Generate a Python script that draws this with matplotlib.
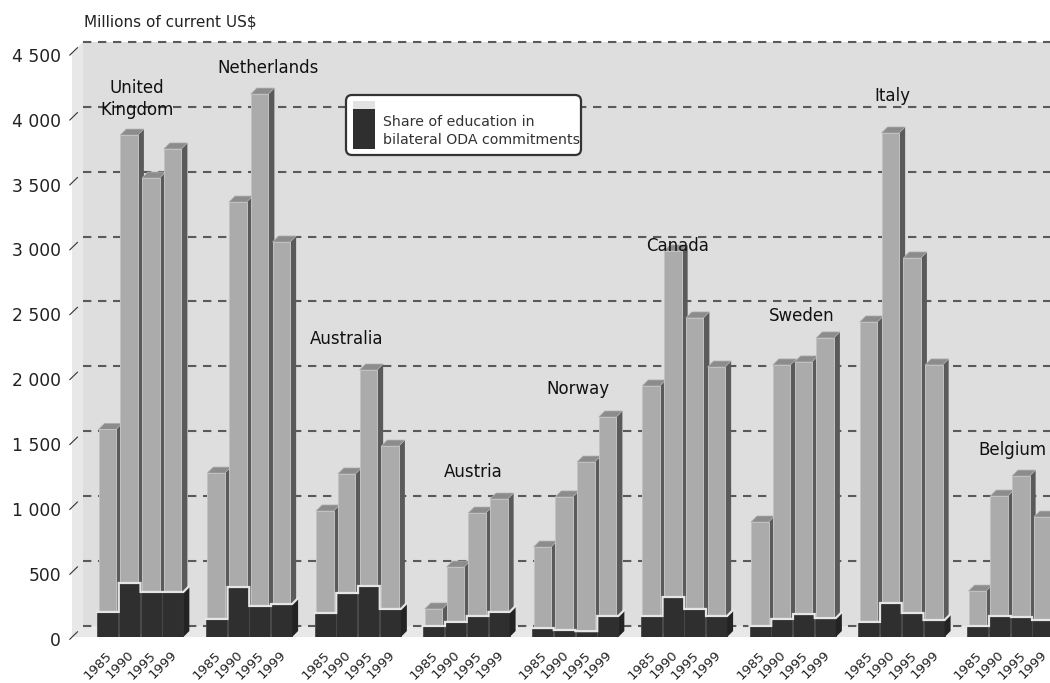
import matplotlib.pyplot as plt
from matplotlib.patches import Polygon, Rectangle, FancyBboxPatch

# bilateral ODA commitments (millions of current US$) and education part
countries = ['United\nKingdom', 'Netherlands', 'Australia', 'Austria', 'Norway',
             'Canada', 'Sweden', 'Italy', 'Belgium']
years = ['1985', '1990', '1995', '1999']

oda_1985 = [1600, 1263, 971, 216, 693, 1934, 886, 2427, 354]
oda_1990 = [3867, 3351, 1256, 539, 1079, 2974, 2096, 3883, 1086]
oda_1995 = [3536, 4183, 2057, 955, 1348, 2458, 2119, 2920, 1240]
oda_1999 = [3760, 3043, 1471, 1063, 1695, 2080, 2304, 2096, 924]

edu_1985 = [193, 139, 185, 85, 69, 162, 85, 116, 85]
edu_1990 = [416, 385, 339, 116, 54, 308, 139, 262, 162]
edu_1995 = [347, 239, 393, 162, 45, 216, 177, 185, 154]
edu_1999 = [347, 254, 216, 193, 162, 162, 146, 131, 131]

y_ticks = [0, 500, 1000, 1500, 2000, 2500, 3000, 3500, 4000, 4500]

# where the country names sit (x in bar slots, y in millions)
label_x = [1.84, 7.86, 11.49, 17.29, 22.11, 26.67, 32.41, 36.55, 42.07]
label_y = [4145, 4384, 2296, 1271, 1911, 3012, 2473, 4168, 1441]

oda = [oda_1985, oda_1990, oda_1995, oda_1999]
edu = [edu_1985, edu_1990, edu_1995, edu_1999]

W, H = 1050, 683
PX_X = 21.75     # pixels per bar slot
PX_Y = 0.1298    # pixels per million
fig = plt.figure(figsize=(W / 100, H / 100), dpi=100)

xmin = (72 - 97) / PX_X
xmax = (W - 97) / PX_X
ymax = 4600
ax = fig.add_axes([72 / W, (H - 637) / H, (W - 72) / W, ymax * PX_Y / H])
ax.set_xlim(xmin, xmax)
ax.set_ylim(0, ymax)
ax.axis('off')

# 3d offsets: wall depth and bar depth
dxw, dyw = 11 / PX_X, 11 / PX_Y
dxb, dyb = 6 / PX_X, 6 / PX_Y

# walls
ax.add_patch(Rectangle((xmin + dxw, dyw), xmax - xmin, 4500, fc='#dedede', ec='none', zorder=0))
ax.add_patch(Polygon([(xmin, 0), (xmin, 4500), (xmin + dxw, 4500 + dyw), (xmin + dxw, dyw)],
                     fc='#e8e8e8', ec='none', zorder=0))
ax.add_patch(Polygon([(xmin, 0), (xmax + 1, 0), (xmax + 1, dyw), (xmin + dxw, dyw)],
                     fc='#e8e8e8', ec='none', zorder=0))

for v in y_ticks:
    ax.plot([xmin + dxw, xmax], [v + dyw, v + dyw], color='#5a5a5a', lw=1.5,
            dashes=(4, 3.2), zorder=1, clip_on=False)
    ax.plot([xmin - 0.1, xmin + 0.25], [v - 17, v + 40], color='#333333', lw=0.8,
            zorder=1, clip_on=False)
    ax.text(xmin - 11 / PX_X, v - 30, f'{v:,}'.replace(',', ' '), ha='right', va='center',
            fontsize=12.3, color='#222222', clip_on=False)

# bars
for g in range(len(countries)):
    xs = [g * 5 + i for i in range(len(years))]
    for i, x in enumerate(xs):
        v = oda[i][g]
        ax.add_patch(Polygon([(x + 0.88, 0), (x + 0.88, v), (x + 0.88 + dxb, v + dyb),
                              (x + 0.88 + dxb, dyb)], fc='#5a5a5a', ec='none', zorder=2))
        ax.add_patch(Polygon([(x + 0.07, v), (x + 0.88, v), (x + 0.88 + dxb, v + dyb),
                              (x + 0.07 + dxb, v + dyb)], fc='#8c8c8c', ec='#b0b0b0',
                             lw=0.5, zorder=2))
        ax.add_patch(Rectangle((x + 0.07, 0), 0.81, v, fc='#ababab', ec='#c2c2c2',
                               lw=0.7, zorder=2))
    pts = []
    for i, x in enumerate(xs):
        e = edu[i][g]
        ax.add_patch(Rectangle((x, 0), 0.97, e, fc='#2f2f2f', ec='#4a4a4a', lw=0.6, zorder=2))
        last = i == len(xs) - 1
        pts += [(x, e), (x + (0.97 if last else 1.0), e)]
        if last:
            ax.add_patch(Polygon([(x + 0.97, 0), (x + 0.97, e), (x + 0.97 + dxb, e + dyb),
                                  (x + 0.97 + dxb, dyb)], fc='#232323', ec='none', zorder=2))
            pts.append((x + 0.97 + dxb, e + dyb))
    ax.plot([p[0] for p in pts], [p[1] for p in pts], color='#e6e6e6', lw=1.6, zorder=2,
            solid_joinstyle='miter')
    for i, x in enumerate(xs):
        ax.text(x + 0.6, -125, years[i], rotation=45, rotation_mode='anchor', ha='right',
                va='center', fontsize=9.5, color='#222222', clip_on=False)
    ax.text(label_x[g], label_y[g], countries[g], ha='center', va='center', fontsize=12,
            color='#111111', linespacing=1.3, zorder=3)

# overlay in pixel units for title and legend box
lax = fig.add_axes([0, 0, 1, 1], zorder=5)
lax.set_xlim(0, W)
lax.set_ylim(H, 0)
lax.axis('off')
lax.text(84, 22, 'Millions of current US$', ha='left', va='center', fontsize=11, color='#222222')
lax.add_patch(FancyBboxPatch((346, 95), 235, 60, boxstyle='round,pad=0,rounding_size=6',
                             fc='white', ec='#333333', lw=1.6))
lax.add_patch(Rectangle((353, 101), 22, 8, fc='#e2e2e2', ec='none'))
lax.add_patch(Rectangle((353, 109), 22, 40, fc='#2f2f2f', ec='none'))
lax.text(383, 131, 'Share of education in\nbilateral ODA commitments', ha='left', va='center',
         fontsize=10.2, color='#333333', linespacing=1.45)

fig.savefig('out.png', dpi=100)
